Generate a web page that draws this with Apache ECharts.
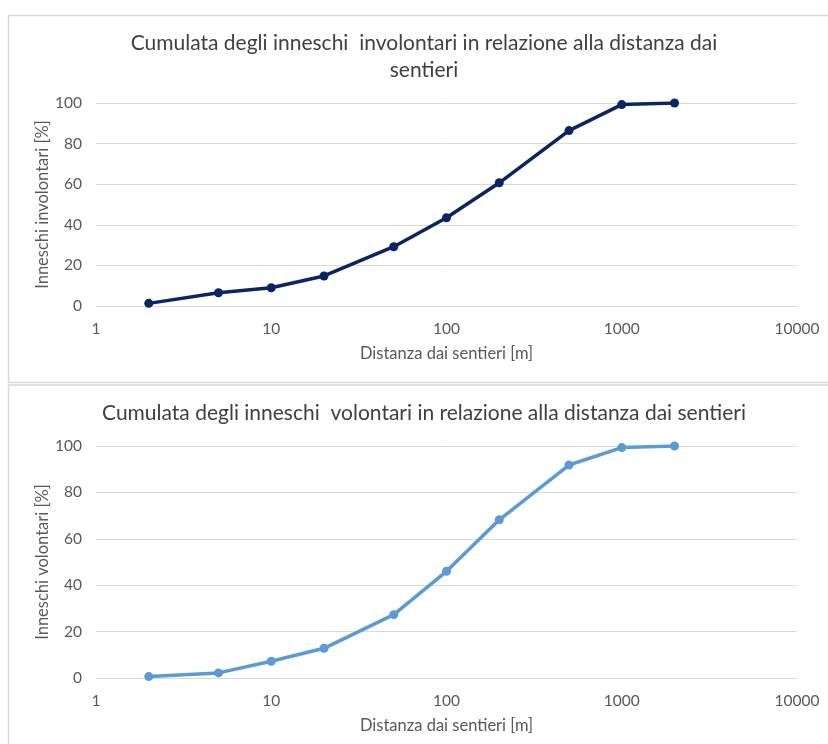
<!DOCTYPE html>
<html>
<head>
<meta charset="utf-8">
<title>Cumulata degli inneschi</title>
<script src="https://cdn.jsdelivr.net/npm/echarts@6/dist/echarts.min.js"></script>
<style>
  html, body { margin: 0; padding: 0; background: #ffffff; }
  #chart { width: 828px; height: 744px; }
</style>
</head>
<body>
<div id="chart"></div>
<script>
// Distanza dai sentieri [m]
const distanze = [2, 5, 10, 20, 50, 100, 200, 500, 1000, 2000];
// Cumulata inneschi involontari [%]
const involontari = [1.3, 6.5, 9.0, 14.8, 29.2, 43.5, 60.7, 86.4, 99.2, 100];
// Cumulata inneschi volontari [%]
const volontari = [0.6, 2.2, 7.2, 12.8, 27.3, 46.0, 68.2, 91.8, 99.3, 100];

const titoloInvolontari = 'Cumulata degli inneschi  involontari in relazione alla distanza dai\nsentieri';
const titoloVolontari = 'Cumulata degli inneschi  volontari in relazione alla distanza dai sentieri';
const nomeAsseX = 'Distanza dai sentieri [m]';
const nomeAsseYInv = 'Inneschi involontari [%]';
const nomeAsseYVol = 'Inneschi volontari [%]';

const FONT = 'Lato, "Open Sans", sans-serif';
const GRID_COLOR = '#d9d9d9';
const TEXT_COLOR = '#595959';

function pairs(xs, ys) {
  return xs.map((x, i) => [x, ys[i]]);
}

function xAxisCfg(gridIndex) {
  return {
    type: 'log',
    logBase: 10,
    gridIndex,
    min: 1,
    max: 10000,
    name: nomeAsseX,
    nameLocation: 'middle',
    nameGap: 39,
    nameMoveOverlap: false,
    nameTextStyle: { fontFamily: FONT, fontSize: 16.5, color: TEXT_COLOR },
    axisLine: { show: true, lineStyle: { color: GRID_COLOR, width: 1 } },
    axisTick: { show: false },
    minorTick: { show: false },
    splitLine: { show: false },
    axisLabel: {
      fontFamily: FONT, fontSize: 15.5, color: TEXT_COLOR, margin: 15,
      formatter: (v) => String(Math.round(v))
    }
  };
}

function yAxisCfg(gridIndex, name) {
  return {
    type: 'value',
    gridIndex,
    min: 0,
    max: 100,
    interval: 20,
    name,
    nameLocation: 'middle',
    nameGap: 45,
    nameMoveOverlap: false,
    nameTextStyle: { fontFamily: FONT, fontSize: 16.5, color: TEXT_COLOR },
    axisLine: { show: false },
    axisTick: { show: false },
    splitLine: { show: true, lineStyle: { color: GRID_COLOR, width: 1 } },
    axisLabel: { fontFamily: FONT, fontSize: 15.5, color: TEXT_COLOR, margin: 14 }
  };
}

function lineSeries(idx, data, color) {
  return {
    type: 'line',
    xAxisIndex: idx,
    yAxisIndex: idx,
    data,
    symbol: 'circle',
    symbolSize: 9,
    showSymbol: true,
    lineStyle: { color, width: 3.5 },
    itemStyle: { color },
    emphasis: { disabled: true },
    animation: false
  };
}

const chart = echarts.init(document.getElementById('chart'), null, { renderer: 'canvas' });

chart.setOption({
  backgroundColor: '#ffffff',
  animation: false,
  graphic: [
    {
      type: 'rect',
      shape: { x: 8.5, y: 15.5, width: 840, height: 367 },
      style: { fill: 'none', stroke: GRID_COLOR, lineWidth: 1.5 },
      silent: true
    },
    {
      type: 'rect',
      shape: { x: 8.5, y: 385, width: 840, height: 380 },
      style: { fill: 'none', stroke: GRID_COLOR, lineWidth: 1.5 },
      silent: true
    }
  ],
  title: [
    {
      text: titoloInvolontari,
      left: 424,
      top: 30,
      textAlign: 'center',
      padding: 0,
      textStyle: { fontFamily: FONT, fontSize: 21, fontWeight: 'normal', color: '#404040', lineHeight: 27 }
    },
    {
      text: titoloVolontari,
      left: 424,
      top: 400,
      textAlign: 'center',
      padding: 0,
      textStyle: { fontFamily: FONT, fontSize: 21, fontWeight: 'normal', color: '#404040', lineHeight: 27 }
    }
  ],
  grid: [
    { left: 96, right: 31, top: 103, height: 203, containLabel: false },
    { left: 96, right: 31, top: 446, height: 232, containLabel: false }
  ],
  xAxis: [xAxisCfg(0), xAxisCfg(1)],
  yAxis: [yAxisCfg(0, nomeAsseYInv), yAxisCfg(1, nomeAsseYVol)],
  series: [
    lineSeries(0, pairs(distanze, involontari), '#0b2463'),
    lineSeries(1, pairs(distanze, volontari), '#5b9bd5')
  ]
});
</script>
</body>
</html>
